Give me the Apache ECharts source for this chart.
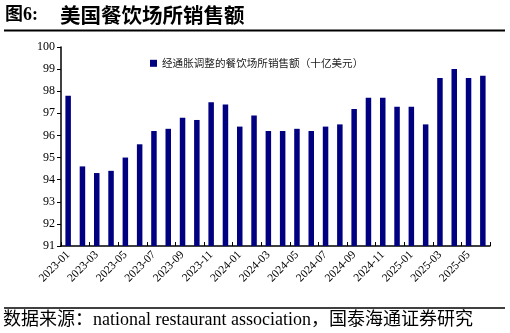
<!DOCTYPE html>
<html>
<head>
<meta charset="utf-8">
<script src="https://cdn.jsdelivr.net/npm/echarts@6/dist/echarts.min.js"></script>
<style>
  html, body { margin: 0; padding: 0; background: #fff; }
  #chart { width: 510px; height: 333px; }
</style>
</head>
<body>
<div id="chart"></div>
<script>
// Monthly categories, 2023-01 .. 2025-06
const months = [
  '2023-01','2023-02','2023-03','2023-04','2023-05','2023-06',
  '2023-07','2023-08','2023-09','2023-10','2023-11','2023-12',
  '2024-01','2024-02','2024-03','2024-04','2024-05','2024-06',
  '2024-07','2024-08','2024-09','2024-10','2024-11','2024-12',
  '2025-01','2025-02','2025-03','2025-04','2025-05','2025-06'
];

// Inflation-adjusted restaurant sales (USD bn)
const sales = [
  97.8, 94.6, 94.3, 94.4, 95.0, 95.6,
  96.2, 96.3, 96.8, 96.7, 97.5, 97.4,
  96.4, 96.9, 96.2, 96.2, 96.3, 96.2,
  96.4, 96.5, 97.2, 97.7, 97.7, 97.3,
  97.3, 96.5, 98.6, 99.0, 98.6, 98.7
];

const seriesName = '经通胀调整的餐饮场所销售额（十亿美元）';
const titleLead = '图6:';
const titleText = '美国餐饮场所销售额';
const sourceText = '数据来源：national restaurant association，国泰海通证券研究';

const serif = '"Liberation Serif", "Times New Roman", "Noto Sans CJK SC", serif';
const cjk = '"Noto Sans CJK SC", "Liberation Serif", serif';

const chart = echarts.init(document.getElementById('chart'), null, { renderer: 'canvas' });

chart.setOption({
  animation: false,
  backgroundColor: '#ffffff',
  grid: { left: 61, right: 20, top: 47, bottom: 87, containLabel: false },
  legend: {
    data: [seriesName],
    left: 145,
    top: 53,
    itemWidth: 7,
    itemHeight: 7,
    itemGap: 4,
    icon: 'rect',
    textStyle: { fontFamily: cjk, fontSize: 10.6, color: '#222' }
  },
  xAxis: {
    type: 'category',
    data: months,
    boundaryGap: true,
    axisLine: { lineStyle: { color: '#000', width: 1.5 } },
    axisTick: { show: true, interval: 1, inside: true, length: 4, lineStyle: { color: '#000' } },
    axisLabel: {
      interval: 1,
      rotate: 45,
      margin: 7,
      fontFamily: serif,
      fontSize: 11.5,
      color: '#000'
    },
    splitLine: { show: false }
  },
  yAxis: {
    type: 'value',
    min: 91,
    max: 100,
    interval: 1,
    axisLine: { show: true, lineStyle: { color: '#000', width: 1.5 } },
    axisTick: { show: true, inside: false, length: 4, lineStyle: { color: '#000' } },
    axisLabel: { fontFamily: serif, fontSize: 12, color: '#000', margin: 6 },
    splitLine: { show: false }
  },
  series: [{
    name: seriesName,
    type: 'bar',
    data: sales,
    barWidth: 5.5,
    itemStyle: { color: '#000080' }
  }],
  graphic: [
    {
      type: 'text', left: 5, top: 6,
      style: { text: titleLead, font: 'bold 18px ' + serif, fill: '#000' }
    },
    {
      type: 'text', left: 60, top: 5,
      style: { text: titleText, font: 'bold 20.5px ' + cjk, fill: '#000' }
    },
    {
      type: 'line',
      shape: { x1: 4, y1: 30.5, x2: 505, y2: 30.5 },
      style: { stroke: '#000', lineWidth: 2 }
    },
    {
      type: 'line',
      shape: { x1: 4, y1: 308, x2: 505, y2: 308 },
      style: { stroke: '#000', lineWidth: 1.5 }
    },
    {
      type: 'text', left: 3, top: 311,
      style: { text: sourceText, font: '18px ' + serif, fill: '#000' }
    }
  ]
});
</script>
</body>
</html>
